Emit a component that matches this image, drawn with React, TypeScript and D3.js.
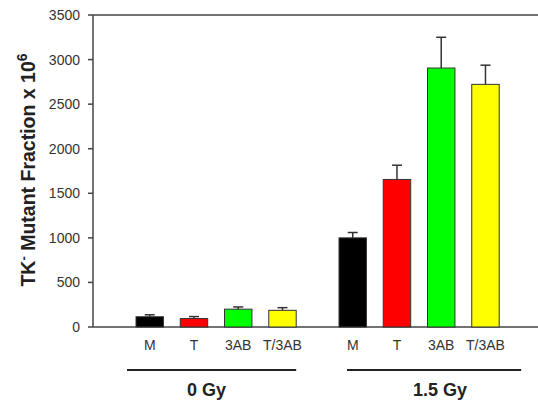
import * as d3 from "d3";
import React from "react";

const groups = ["0 Gy", "1.5 Gy"];
const categories = ["M", "T", "3AB", "T/3AB"];
const colors = ["#000000", "#ff0000", "#00ff00", "#ffff00"];
// mean and upper error per group, in category order
const means = [
  [115, 95, 200, 187],
  [1000, 1655, 2905, 2722],
];
const errors = [
  [22, 22, 25, 30],
  [60, 160, 345, 215],
];
const yTicks = [0, 500, 1000, 1500, 2000, 2500, 3000, 3500];

const width = 538;
const height = 402;
const margin = { top: 15, right: 0, bottom: 75, left: 93 };

function App() {
  const y = d3
    .scaleLinear()
    .domain([0, 3500])
    .range([height - margin.bottom, margin.top]);

  const gx = d3
    .scaleBand()
    .domain(groups)
    .range([127.6, 507.6])
    .paddingInner(0.128);

  const x = d3
    .scaleBand()
    .domain(categories)
    .range([0, gx.bandwidth()])
    .paddingInner(0.38)
    .paddingOuter(0.19);

  // bracket ends relative to first bar left / last bar right
  const bracketPad = [
    [-9, 0],
    [8, 22],
  ];
  const labelShift = [-5, 6];

  const font = "Liberation Sans, Arial, sans-serif";
  const axisColor = "#444";

  return (
    <svg
      width={width}
      height={height}
      style={{ position: "absolute", left: 0, top: 0, fontFamily: font }}
    >
      {/* frame lines */}
      <line x1={margin.left} x2={width} y1={y(3500)} y2={y(3500)} stroke={axisColor} strokeWidth={1.5} />
      <line x1={margin.left} x2={width} y1={y(0)} y2={y(0)} stroke={axisColor} strokeWidth={1.5} />
      <line x1={margin.left} x2={margin.left} y1={y(3500)} y2={y(0)} stroke={axisColor} strokeWidth={1.5} />

      {yTicks.map((t) => (
        <g key={t}>
          <line x1={margin.left - 5} x2={margin.left} y1={y(t)} y2={y(t)} stroke={axisColor} strokeWidth={1.5} />
          <text x={margin.left - 13} y={y(t)} dy="0.36em" textAnchor="end" fontSize={14} fill="#333">
            {t}
          </text>
        </g>
      ))}

      <text
        transform={`translate(35, 170) rotate(-90)`}
        textAnchor="middle"
        fontSize={19.5}
        fontWeight="bold"
        fill="#222"
      >
        TK<tspan dy="-7" fontSize={13}>-</tspan>
        <tspan dy="7"> Mutant Fraction x 10</tspan>
        <tspan dy="-8" fontSize={14}>6</tspan>
      </text>

      {groups.map((g, gi) => {
        const g0 = gx(g)!;
        const first = g0 + x(categories[0])!;
        const last = g0 + x(categories[categories.length - 1])! + x.bandwidth();
        const b1 = first + bracketPad[gi][0];
        const b2 = last + bracketPad[gi][1];
        return (
          <g key={g}>
            {categories.map((c, ci) => {
              const bx = g0 + x(c)!;
              const cx = bx + x.bandwidth() / 2;
              const v = means[gi][ci];
              const e = errors[gi][ci];
              return (
                <g key={c}>
                  <line x1={cx} x2={cx} y1={y(v)} y2={y(v + e)} stroke="#333" strokeWidth={1.5} />
                  <line x1={cx - 5} x2={cx + 5} y1={y(v + e)} y2={y(v + e)} stroke="#333" strokeWidth={1.5} />
                  <rect
                    x={bx}
                    y={y(v)}
                    width={x.bandwidth()}
                    height={y(0) - y(v)}
                    fill={colors[ci]}
                    stroke="#333"
                    strokeWidth={1}
                  />
                  <text x={cx} y={350} textAnchor="middle" fontSize={14} fill="#333">
                    {c}
                  </text>
                </g>
              );
            })}
            <line x1={b1} x2={b2} y1={370} y2={370} stroke="#222" strokeWidth={2} />
            <text x={(b1 + b2) / 2 + labelShift[gi]} y={396} textAnchor="middle" fontSize={18} fontWeight="bold" fill="#222">
              {g}
            </text>
          </g>
        );
      })}
    </svg>
  );
}

export default App;
